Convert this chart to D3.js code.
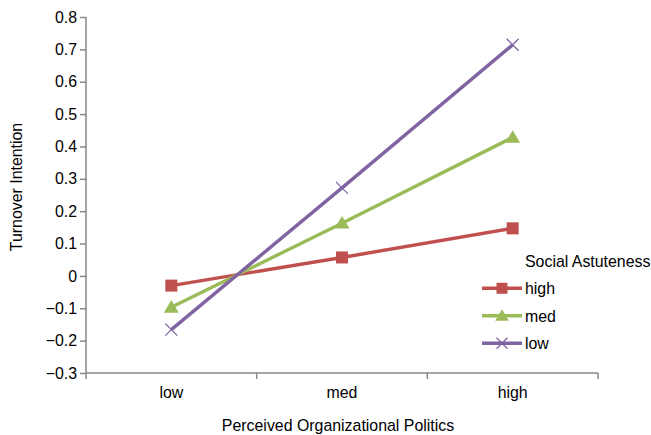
<!DOCTYPE html>
<html><head><meta charset="utf-8">
<script src="https://cdn.jsdelivr.net/npm/d3@7"></script>
<style>body{margin:0;background:#fff;} text{font-family:"Liberation Sans",Arial,sans-serif;fill:#000;}</style>
</head><body>
<svg id="c" width="651" height="435"></svg>
<script>
const categories = ["low","med","high"];
const seriesNames = ["high","med","low"];
const highValues = [-0.030, 0.057, 0.147];
const medValues = [-0.097, 0.163, 0.428];
const lowValues = [-0.166, 0.272, 0.714];
const yTicks = [-0.3,-0.2,-0.1,0,0.1,0.2,0.3,0.4,0.5,0.6,0.7,0.8];
const colors = ["#C0504D","#9BBB59","#8064A2"];
const markers = ["square","triangle","cross"];
const series = [highValues, medValues, lowValues];

const FS = 15.9;
const svg = d3.select("#c");
const x = d3.scaleBand().domain(categories).range([86,598]);
const y = d3.scaleLinear().domain([-0.3,0.8]).range([373,17]);
const axisColor = "#888";

// y axis
const ya = svg.append("g").attr("transform","translate(86,0)")
  .call(d3.axisLeft(y).tickValues(yTicks).tickSize(6).tickPadding(3)
    .tickFormat(d => d === 0 ? "0" : d3.format(".1f")(d)));
ya.select(".domain").attr("stroke",axisColor).attr("stroke-width",1.5).attr("d","M0,17V373");
ya.selectAll(".tick line").attr("stroke",axisColor).attr("stroke-width",1.5);
ya.selectAll(".tick text").attr("font-size",FS).attr("fill","#000");

// x axis
const xa = svg.append("g").attr("transform","translate(0,373)")
  .call(d3.axisBottom(x).tickSize(0).tickPadding(14));
xa.select(".domain").attr("stroke",axisColor).attr("stroke-width",1.5).attr("d","M86,0H598");
xa.selectAll(".tick text").attr("font-size",FS).attr("fill","#000");
const bounds = categories.map(c => x(c)).concat([x(categories[categories.length-1]) + x.bandwidth()]);
xa.selectAll(".bt").data(bounds).enter().append("line")
  .attr("x1",d=>d).attr("x2",d=>d).attr("y1",0).attr("y2",6)
  .attr("stroke",axisColor).attr("stroke-width",1.5);

// axis titles
svg.append("text").attr("transform","translate(22,187) rotate(-90)")
  .attr("text-anchor","middle").attr("font-size",FS).text("Turnover Intention");
svg.append("text").attr("x",338).attr("y",431)
  .attr("text-anchor","middle").attr("font-size",FS).text("Perceived Organizational Politics");

const cx = c => x(c) + x.bandwidth()/2;

function drawMarker(g, type, px, py, color, size) {
  if (type === "square") {
    g.append("rect").attr("x",px-size/2).attr("y",py-size/2).attr("width",size).attr("height",size).attr("fill",color);
  } else if (type === "triangle") {
    const h = size;
    g.append("path").attr("d",`M${px},${py-h*0.6}L${px+h*0.62},${py+h*0.45}L${px-h*0.62},${py+h*0.45}Z`).attr("fill",color);
  } else {
    const s = size/2;
    g.append("path").attr("d",`M${px-s},${py-s}L${px+s},${py+s}M${px-s},${py+s}L${px+s},${py-s}`)
      .attr("stroke",color).attr("stroke-width",1.3).attr("fill","none");
  }
}

const line = d3.line().x((d,i)=>cx(categories[i])).y(d=>y(d));
series.forEach((vals, si) => {
  svg.append("path").datum(vals).attr("d",line).attr("fill","none")
    .attr("stroke",colors[si]).attr("stroke-width",3.4).attr("stroke-linejoin","round");
});
series.forEach((vals, si) => {
  const g = svg.append("g");
  vals.forEach((v,i) => drawMarker(g, markers[si], cx(categories[i]), y(v), colors[si], 12));
});

// legend
svg.append("text").attr("x",525).attr("y",267).attr("font-size",FS).text("Social Astuteness");
seriesNames.forEach((n, si) => {
  const ly = 288.3 + si*27.5;
  const g = svg.append("g");
  g.append("line").attr("x1",482).attr("x2",522).attr("y1",ly).attr("y2",ly)
    .attr("stroke",colors[si]).attr("stroke-width",3.4);
  drawMarker(g, markers[si], 502, ly, colors[si], 11);
  g.append("text").attr("x",525).attr("y",ly+6).attr("font-size",FS).text(n);
});
</script>
</body></html>
